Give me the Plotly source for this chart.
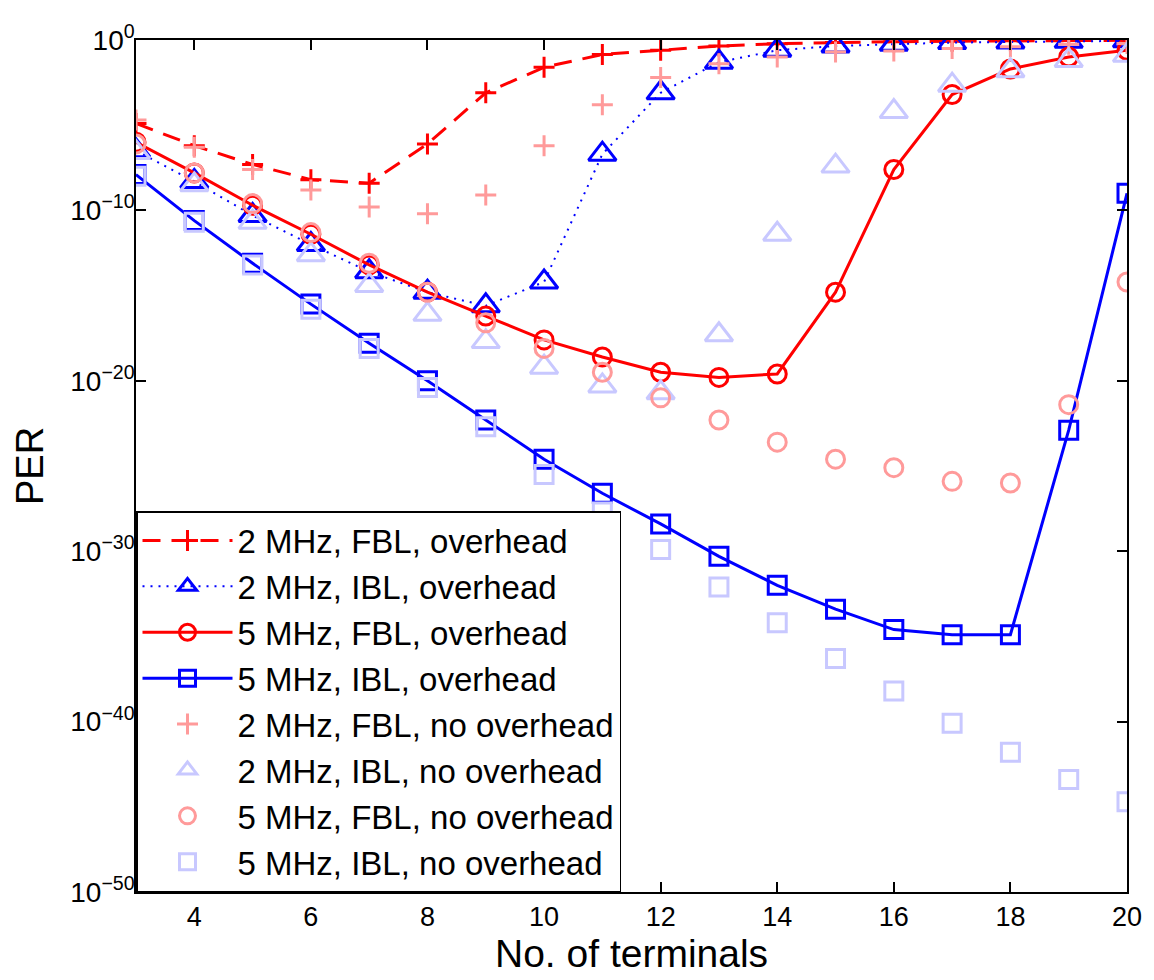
import numpy as np
import plotly.graph_objects as go

terminals = list(range(3, 21))

# log10(PER)
exp_2mhz_fbl_oh = [-4.9, -6.2, -7.3, -8.2, -8.4, -6.1, -3.1, -1.6, -0.85, -0.6, -0.35, -0.22, -0.15, -0.1, -0.07, -0.05, -0.03, -0.02]
exp_2mhz_ibl_oh = [-6.5, -8.3, -10.3, -12.0, -13.6, -14.8, -15.6, -14.2, -6.7, -3.1, -1.3, -0.6, -0.35, -0.25, -0.15, -0.12, -0.08, -0.05]
exp_5mhz_fbl_oh = [-6.0, -7.8, -9.7, -11.4, -13.2, -14.8, -16.2, -17.6, -18.6, -19.5, -19.8, -19.6, -14.8, -7.6, -3.2, -1.7, -1.0, -0.6]
exp_5mhz_ibl_oh = [-7.9, -10.6, -13.1, -15.5, -17.8, -20.0, -22.3, -24.6, -26.6, -28.4, -30.3, -32.0, -33.4, -34.6, -34.9, -34.9, -22.9, -9.0]
exp_2mhz_fbl_no = [-4.7, -6.3, -7.6, -8.8, -9.8, -10.2, -9.1, -6.2, -3.8, -2.2, -1.4, -1.0, -0.7, -0.65, -0.5, -0.4, -0.25, -0.2]
exp_2mhz_ibl_no = [-6.6, -8.5, -10.7, -12.6, -14.4, -16.1, -17.7, -19.2, -20.3, -20.7, -17.3, -11.4, -7.4, -4.2, -2.65, -1.8, -1.2, -0.9]
exp_5mhz_fbl_no = [-6.1, -7.8, -9.6, -11.3, -13.1, -14.8, -16.6, -18.1, -19.5, -21.0, -22.3, -23.6, -24.6, -25.1, -25.9, -26.0, -21.4, -14.2]
exp_5mhz_ibl_no = [-8.0, -10.7, -13.2, -15.8, -18.1, -20.4, -22.7, -25.5, -27.7, -29.9, -32.1, -34.2, -36.3, -38.2, -40.1, -41.8, -43.4, -44.7]

legend_names = [
    "2 MHz, FBL, overhead", "2 MHz, IBL, overhead", "5 MHz, FBL, overhead", "5 MHz, IBL, overhead",
    "2 MHz, FBL, no overhead", "2 MHz, IBL, no overhead", "5 MHz, FBL, no overhead", "5 MHz, IBL, no overhead",
]

x_title = "No. of terminals"
y_title = "PER"
y_tick_exps = [-50, -40, -30, -20, -10, 0]
x_ticks = [4, 6, 8, 10, 12, 14, 16, 18, 20]

RED = "#ff0000"
BLUE = "#0000ff"
LRED = "#ff9a9a"
LBLUE = "#c8c8ff"
FONT = "Liberation Sans, Arial, sans-serif"


def per(e):
    return np.power(10.0, np.array(e, dtype=float))


fig = go.Figure()

series = [
    (exp_2mhz_fbl_oh, "lines+markers", RED, "18px,11px", 3, "cross-thin-open", 15),
    (exp_2mhz_ibl_oh, "lines+markers", BLUE, "2px,6px", 2, "triangle-up-open", 24),
    (exp_5mhz_fbl_oh, "lines+markers", RED, "solid", 3, "circle-open", 18),
    (exp_5mhz_ibl_oh, "lines+markers", BLUE, "solid", 3, "square-open", 18),
    (exp_2mhz_fbl_no, "markers", LRED, None, 0, "cross-thin-open", 15),
    (exp_2mhz_ibl_no, "markers", LBLUE, None, 0, "triangle-up-open", 24),
    (exp_5mhz_fbl_no, "markers", LRED, None, 0, "circle-open", 18),
    (exp_5mhz_ibl_no, "markers", LBLUE, None, 0, "square-open", 18),
]

for (vals, mode, col, dash, lw, sym, ms), name in zip(series, legend_names):
    kw = dict(
        x=terminals, y=per(vals), mode=mode, name=name,
        marker=dict(symbol=sym, size=ms, color=col, line=dict(color=col, width=3)),
    )
    if dash is not None:
        kw["line"] = dict(color=col, width=lw, dash=dash)
    fig.add_trace(go.Scatter(**kw))

fig.update_layout(
    width=1146, height=972,
    paper_bgcolor="white", plot_bgcolor="white",
    margin=dict(l=128, r=24, t=21, b=88),
    font=dict(family=FONT, color="black"),
    legend=dict(
        x=0, y=0, xanchor="left", yanchor="bottom",
        bgcolor="white", bordercolor="black", borderwidth=1.5,
        font=dict(size=33, family=FONT, color="black"),
        itemwidth=90, tracegroupgap=0,
    ),
    showlegend=True,
    annotations=[
        dict(text=x_title, xref="paper", yref="paper", x=0.5, y=0,
             xanchor="center", yanchor="middle", yshift=-61, showarrow=False,
             font=dict(family=FONT, size=39, color="black")),
        dict(text=y_title, xref="paper", yref="paper", x=0, y=0.5,
             xanchor="center", yanchor="middle", xshift=-106, textangle=-90, showarrow=False,
             font=dict(family=FONT, size=38, color="black")),
    ],
)

fig.update_xaxes(
    range=[3, 20], tickvals=x_ticks, ticktext=[str(v) for v in x_ticks],
    showgrid=False, zeroline=False, showline=True, linecolor="black", linewidth=1.5,
    mirror="allticks", ticks="inside", ticklen=10, tickcolor="black", tickwidth=1.5,
    tickfont=dict(family=FONT, size=27, color="black"),
)

fig.update_yaxes(
    type="log", range=[-50, 0],
    tickvals=[10.0 ** e for e in y_tick_exps],
    ticktext=["10<sup>\u2212%d</sup>" % (-e) if e < 0 else "10<sup>0</sup>" for e in y_tick_exps],
    showgrid=False, zeroline=False, showline=True, linecolor="black", linewidth=1.5,
    mirror="allticks", ticks="inside", ticklen=10, tickcolor="black", tickwidth=1.5,
    tickfont=dict(family=FONT, size=28, color="black"),
    ticklabelstandoff=-6,
)

fig.write_html("out.html")
